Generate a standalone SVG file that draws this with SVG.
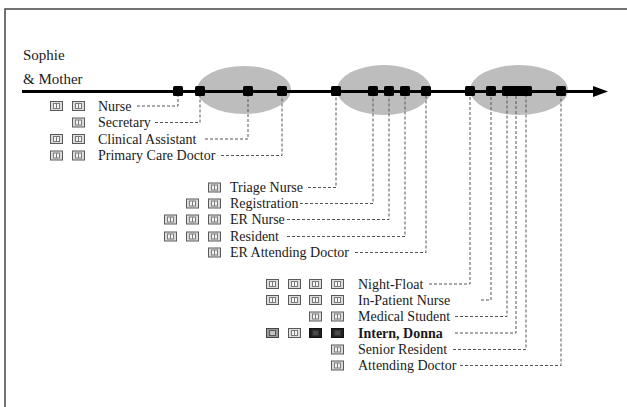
<svg xmlns="http://www.w3.org/2000/svg" xmlns:xlink="http://www.w3.org/1999/xlink" width="627" height="407" viewBox="0 0 627 407">
<style>
.lbl{font-family:"Liberation Serif","Times New Roman",serif;font-size:14px;fill:#1a1a1a}
.ttl{font-family:"Liberation Serif","Times New Roman",serif;font-size:15px;fill:#1a1a1a}
.b{font-weight:bold}
.con{fill:none;stroke:#555;stroke-width:1;stroke-dasharray:3,2}
.mk{fill:#000}
.ell{fill:#bdbdbd}
</style>
<defs>
<g id="boxL"><rect x="0.5" y="0.5" width="12" height="9" fill="#dcdcdc" stroke="#5a5a5a"/><rect x="3.5" y="2.5" width="6" height="5" fill="#f4f4f4" stroke="#7a7a7a"/><line x1="6.5" y1="2.5" x2="6.5" y2="7.5" stroke="#7a7a7a"/></g>
<g id="boxM"><rect x="0.5" y="0.5" width="12" height="9" fill="#9a9a9a" stroke="#444"/><rect x="3.5" y="2.5" width="6" height="5" fill="#c4c4c4" stroke="#555"/></g>
<g id="boxD"><rect x="0.5" y="0.5" width="12" height="9" fill="#222" stroke="#111"/><rect x="3.5" y="2.5" width="6" height="5" fill="#4a4a4a" stroke="#333"/></g>
</defs>
<rect width="627" height="407" fill="#fff"/>
<path d="M5,407 V9 H627" fill="none" stroke="#444" stroke-width="1.5"/>
<g id="title"><text class="ttl" x="23" y="60">Sophie</text><text class="ttl" x="23" y="84">&amp; Mother</text></g>
<g id="episodes">
<ellipse class="ell" cx="244" cy="90" rx="47" ry="24"/>
<ellipse class="ell" cx="384" cy="90" rx="47" ry="25"/>
<ellipse class="ell" cx="519" cy="90" rx="49" ry="25"/>
</g>
<g id="connectors">
<path class="con" d="M137,106 H178 V91"/>
<path class="con" d="M155,122.5 H200 V91"/>
<path class="con" d="M205,139 H248 V91"/>
<path class="con" d="M221,155.5 H282 V91"/>
<path class="con" d="M308,187.5 H336 V91"/>
<path class="con" d="M300,203.5 H373 V91"/>
<path class="con" d="M287,219.5 H389 V91"/>
<path class="con" d="M287,236.5 H405 V91"/>
<path class="con" d="M355,252.5 H426 V91"/>
<path class="con" d="M429,284 H470 V91"/>
<path class="con" d="M481,300 H491 V91"/>
<path class="con" d="M455,316.5 H507 V91"/>
<path class="con" d="M455,333 H516 V91"/>
<path class="con" d="M453,349.5 H526 V91"/>
<path class="con" d="M460,365.5 H561 V91"/>
</g>
<g id="timeline">
<line x1="22" y1="91.5" x2="596" y2="91.5" stroke="#000" stroke-width="3"/>
<polygon points="593,86 608,91.5 593,97" fill="#000"/>
</g>
<g id="markers">
<rect class="mk" x="173" y="86" width="10" height="10" rx="1.5"/>
<rect class="mk" x="195" y="86" width="10" height="10" rx="1.5"/>
<rect class="mk" x="243" y="86" width="10" height="10" rx="1.5"/>
<rect class="mk" x="277" y="86" width="10" height="10" rx="1.5"/>
<rect class="mk" x="331" y="86" width="10" height="10" rx="1.5"/>
<rect class="mk" x="368" y="86" width="10" height="10" rx="1.5"/>
<rect class="mk" x="384" y="86" width="10" height="10" rx="1.5"/>
<rect class="mk" x="400" y="86" width="10" height="10" rx="1.5"/>
<rect class="mk" x="421" y="86" width="10" height="10" rx="1.5"/>
<rect class="mk" x="465" y="86" width="10" height="10" rx="1.5"/>
<rect class="mk" x="486" y="86" width="10" height="10" rx="1.5"/>
<rect class="mk" x="502" y="86" width="30" height="10" rx="1.5"/>
<rect class="mk" x="556" y="86" width="10" height="10" rx="1.5"/>
</g>
<g id="nurse"><use xlink:href="#boxL" x="50" y="101"/><use xlink:href="#boxL" x="72" y="101"/><text class="lbl" x="98" y="110.5">Nurse</text></g>
<g id="secretary"><use xlink:href="#boxL" x="72" y="117.5"/><text class="lbl" x="98" y="127">Secretary</text></g>
<g id="clinical-assistant"><use xlink:href="#boxL" x="50" y="134"/><use xlink:href="#boxL" x="72" y="134"/><text class="lbl" x="98" y="143.5">Clinical Assistant</text></g>
<g id="primary-care-doctor"><use xlink:href="#boxL" x="50" y="150.5"/><use xlink:href="#boxL" x="72" y="150.5"/><text class="lbl" x="98" y="160">Primary Care Doctor</text></g>

<g id="triage-nurse"><use xlink:href="#boxL" x="208" y="182.5"/><text class="lbl" x="230" y="192">Triage Nurse</text></g>
<g id="registration"><use xlink:href="#boxL" x="186" y="198.5"/><use xlink:href="#boxL" x="208" y="198.5"/><text class="lbl" x="230" y="208">Registration</text></g>
<g id="er-nurse"><use xlink:href="#boxL" x="164" y="214.5"/><use xlink:href="#boxL" x="186" y="214.5"/><use xlink:href="#boxL" x="208" y="214.5"/><text class="lbl" x="230" y="224">ER Nurse</text></g>
<g id="resident"><use xlink:href="#boxL" x="164" y="231.5"/><use xlink:href="#boxL" x="186" y="231.5"/><use xlink:href="#boxL" x="208" y="231.5"/><text class="lbl" x="230" y="241">Resident</text></g>
<g id="er-attending-doctor"><use xlink:href="#boxL" x="208" y="247.5"/><text class="lbl" x="230" y="257">ER Attending Doctor</text></g>

<g id="night-float"><use xlink:href="#boxL" x="266" y="279"/><use xlink:href="#boxL" x="288" y="279"/><use xlink:href="#boxL" x="309" y="279"/><use xlink:href="#boxL" x="331" y="279"/><text class="lbl" x="358" y="288.5">Night-Float</text></g>
<g id="in-patient-nurse"><use xlink:href="#boxL" x="266" y="295"/><use xlink:href="#boxL" x="288" y="295"/><use xlink:href="#boxL" x="309" y="295"/><use xlink:href="#boxL" x="331" y="295"/><text class="lbl" x="358" y="304.5">In-Patient Nurse</text></g>
<g id="medical-student"><use xlink:href="#boxL" x="309" y="311.5"/><use xlink:href="#boxL" x="331" y="311.5"/><text class="lbl" x="358" y="321">Medical Student</text></g>
<g id="intern-donna"><use xlink:href="#boxM" x="266" y="328"/><use xlink:href="#boxL" x="288" y="328"/><use xlink:href="#boxD" x="309" y="328"/><use xlink:href="#boxD" x="331" y="328"/><text class="lbl b" x="358" y="337.5">Intern, Donna</text></g>
<g id="senior-resident"><use xlink:href="#boxL" x="331" y="344.5"/><text class="lbl" x="358" y="354">Senior Resident</text></g>
<g id="attending-doctor"><use xlink:href="#boxL" x="331" y="360.5"/><text class="lbl" x="358" y="370">Attending Doctor</text></g>
</svg>
